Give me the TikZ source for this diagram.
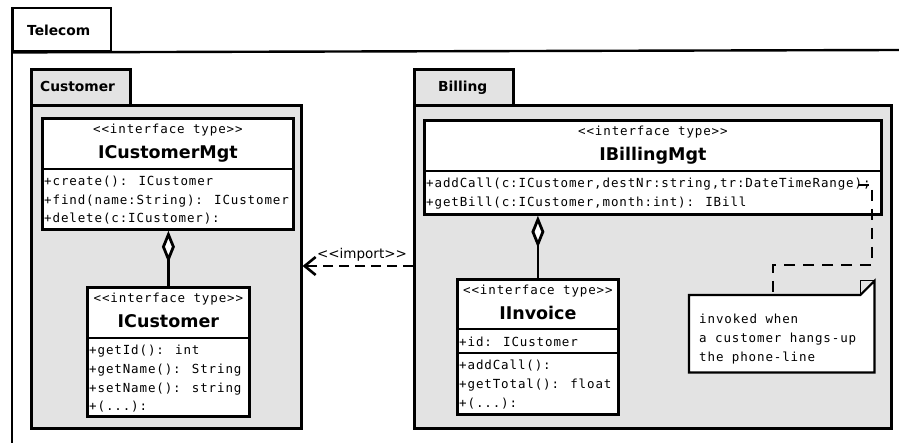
\documentclass[tikz,border=0pt]{standalone}
\usepackage{fontspec}
\setmainfont{DejaVu Sans}
\newfontfamily\umlmono[LetterSpace=7]{DejaVu Sans Mono}
\usetikzlibrary{arrows.meta}

\definecolor{pkggray}{RGB}{227,227,227}

\tikzset{
  frameline/.style={line width=2.4pt},
  pkgtab/.style={draw, line width=2.6pt, fill=pkggray, rectangle, inner sep=0pt, anchor=north west},
  pkgbody/.style={draw, line width=2.6pt, fill=pkggray, rectangle, inner sep=0pt, anchor=north west},
  classbox/.style={draw, line width=2.8pt, fill=white, rectangle, inner sep=0pt, anchor=north west},
  divider/.style={line width=2.8pt},
  pkglabel/.style={font=\bfseries\fontsize{13.8}{16}\selectfont, anchor=base west, inner sep=0pt},
  stereo/.style={font=\umlmono\fontsize{12.5}{14}\selectfont, anchor=base, inner sep=0pt},
  cname/.style={font=\bfseries\fontsize{17.5}{20}\selectfont, anchor=base, inner sep=0pt},
  member/.style={font=\umlmono\fontsize{12.5}{14}\selectfont, anchor=base west, inner sep=0pt},
  aggregation/.style={line width=2.8pt, {Diamond[length=32pt,width=13pt,fill=white,line width=2.8pt]}-},
  dependency/.style={line width=2.6pt, dash pattern=on 10pt off 6pt, -{Straight Barb[length=11pt,width=18pt,line width=2.6pt]}},
  notelink/.style={line width=2.6pt, dash pattern=on 11pt off 8pt},
  deplabel/.style={font=\fontsize{13.5}{16}\selectfont, anchor=base, inner sep=0pt},
}

\begin{document}
\begin{tikzpicture}[x=1pt,y=-1pt]
\useasboundingbox[fill=white] (0,0) rectangle (899,443);

% ---- outer package: Telecom ----
\node[rectangle, draw, frameline, fill=white, inner sep=0pt, anchor=north west,
      minimum width=98pt, minimum height=43pt] (teltab) at (12,7) {};
\draw[frameline] (teltab.north west) -- (12,443);
\draw[frameline] (teltab.south west) -- (899,50);
\node[pkglabel] (tellabel) at (27,36) {Telecom};

% ---- package: Customer ----
\node[pkgtab, minimum width=99pt, minimum height=36pt] (custtab) at (30,68) {};
\node[pkgbody, minimum width=270pt, minimum height=323pt] (custpkg) at (30,104) {};
\node[pkglabel] (custlabel) at (40,92) {Customer};

% ---- package: Billing ----
\node[pkgtab, minimum width=99pt, minimum height=36pt] (billtab) at (413,68) {};
\node[pkgbody, minimum width=477pt, minimum height=323pt] (billpkg) at (413,104) {};
\node[pkglabel] (billlabel) at (438,92) {Billing};

% ---- interface ICustomerMgt ----
\node[classbox, minimum width=251pt, minimum height=111pt] (mgt) at (41,117) {};
\draw[divider] (mgt.west |- 0,169) -- (mgt.east |- 0,169);
\node[stereo] (mgtst) at (mgt.center |- 0,134) {<{}<interface type>{}>};
\node[cname] (mgtname) at (mgt.center |- 0,158.5) {ICustomerMgt};
\node[member] (mgtm1) at (44,186) {+create(): ICustomer};
\node[member] (mgtm2) at (44,204.5) {+find(name:String): ICustomer};
\node[member] (mgtm3) at (44,223) {+delete(c:ICustomer):};

% ---- interface ICustomer ----
\node[classbox, minimum width=162pt, minimum height=129pt] (cust) at (86,286) {};
\draw[divider] (cust.west |- 0,338) -- (cust.east |- 0,338);
\node[stereo] (custst) at (cust.center |- 0,303) {<{}<interface type>{}>};
\node[cname] (custname) at (cust.center |- 0,327.5) {ICustomer};
\node[member] (custm1) at (89,355) {+getId(): int};
\node[member] (custm2) at (89,373.5) {+getName(): String};
\node[member] (custm3) at (89,392) {+setName(): string};
\node[member] (custm4) at (89,410.5) {+(...):};

% ---- interface IBillingMgt ----
\node[classbox, minimum width=457pt, minimum height=94pt] (bill) at (423,119) {};
\draw[divider] (bill.west |- 0,171) -- (bill.east |- 0,171);
\node[stereo] (billst) at (bill.center |- 0,136) {<{}<interface type>{}>};
\node[cname] (billname) at (bill.center |- 0,160.5) {IBillingMgt};
\node[member] (billm1) at (426,188) {+addCall(c:ICustomer,destNr:string,tr:DateTimeRange);};
\node[member] (billm2) at (426,206.5) {+getBill(c:ICustomer,month:int): IBill};

% ---- interface IInvoice ----
\node[classbox, minimum width=161pt, minimum height=135pt] (inv) at (456,278) {};
\draw[divider] (inv.west |- 0,329) -- (inv.east |- 0,329);
\draw[divider] (inv.west |- 0,353) -- (inv.east |- 0,353);
\node[stereo] (invst) at (inv.center |- 0,295) {<{}<interface type>{}>};
\node[cname] (invname) at (inv.center |- 0,319.5) {IInvoice};
\node[member] (inva1) at (459,346) {+id: ICustomer};
\node[member] (invm1) at (459,370) {+addCall():};
\node[member] (invm2) at (459,388.5) {+getTotal(): float};
\node[member] (invm3) at (459,407) {+(...):};

% ---- note ----
\node[rectangle, inner sep=0pt, anchor=north west, minimum width=185pt, minimum height=77pt] (note) at (689,295) {};
\draw[line width=2.2pt, fill=white]
  (note.north west) -- ([xshift=-14pt]note.north east) -- ([yshift=14pt]note.north east)
  -- (note.south east) -- (note.south west) -- cycle;
\draw[line width=1pt] ([xshift=-14pt]note.north east) -- ([xshift=-14pt,yshift=14pt]note.north east)
  -- ([yshift=14pt]note.north east);
\node[member] (notel1) at (699,324) {invoked when};
\node[member] (notel2) at (699,342.5) {a customer hangs-up};
\node[member] (notel3) at (699,361) {the phone-line};

% ---- connectors ----
\draw[aggregation] (cust.north |- mgt.south) -- (cust.north);
\draw[aggregation] (inv.north |- bill.south) -- (inv.north);

\draw[dependency] (billpkg.west |- 0,266) -- (custpkg.east |- 0,266);
\node[deplabel] (implabel) at (362,259) {<{}<import>{}>};

\coordinate (addcallpt) at (858,185);
\coordinate (noteattach) at (773,295);
\draw[notelink] (addcallpt) -- (872,185) -- (872,265) -- (noteattach |- 0,265) -- (noteattach);
\end{tikzpicture}
\end{document}
